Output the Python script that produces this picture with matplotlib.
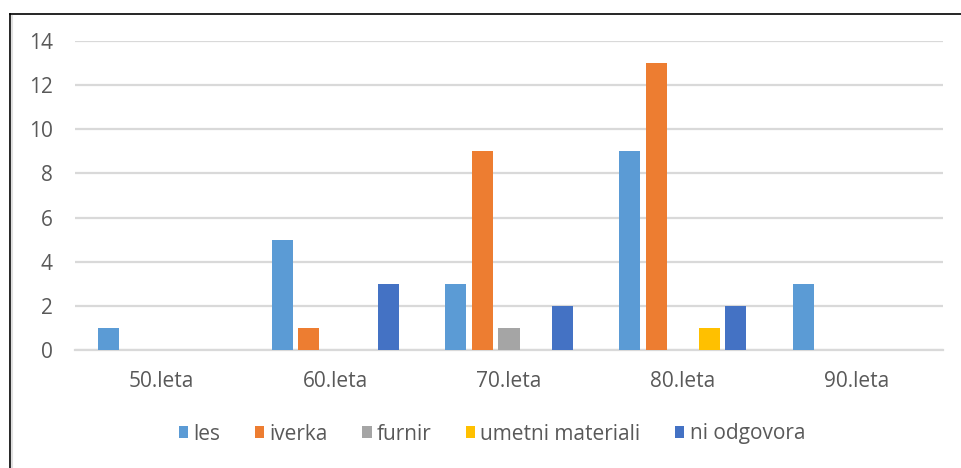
import numpy as np
import matplotlib
matplotlib.use("Agg")
import matplotlib.pyplot as plt
from matplotlib.lines import Line2D

plt.rcParams['font.family'] = ['Open Sans', 'DejaVu Sans']

categories = ["50.leta", "60.leta", "70.leta", "80.leta", "90.leta"]
series = ["les", "iverka", "furnir", "umetni materiali", "ni odgovora"]
les = [1, 5, 3, 9, 3]
iverka = [0, 1, 9, 13, 0]
furnir = [0, 0, 1, 0, 0]
umetni = [0, 0, 0, 1, 0]
ni_odgovora = [0, 3, 2, 2, 0]
values = [les, iverka, furnir, umetni, ni_odgovora]
colors = ["#5B9BD5", "#ED7D31", "#A5A5A5", "#FFC000", "#4472C4"]

fig = plt.figure(figsize=(9.61, 4.68), dpi=100)
ax = fig.add_axes([75/961, 1-350/468, (943-75)/961, (350-41)/468])

x = np.arange(len(categories))
pitch = 0.153
width = 0.121
for i, (name, vals, c) in enumerate(zip(series, values, colors)):
    ax.bar(x + (i-2)*pitch, vals, width, color=c, label=name, zorder=3)

ax.set_xlim(-0.5, 4.5)
ax.set_ylim(0, 14)
ax.set_yticks(range(0, 15, 2))
ax.set_xticks(x)
ax.set_xticklabels(categories)
ax.grid(axis='y', color='#D9D9D9', lw=1.6, zorder=0)
for s in ['top', 'right', 'left']:
    ax.spines[s].set_visible(False)
ax.spines['bottom'].set_color('#D9D9D9')
ax.spines['bottom'].set_linewidth(1.6)
ax.tick_params(axis='both', length=0, labelsize=15, labelcolor='#595959')
ax.tick_params(axis='y', pad=16)
ax.tick_params(axis='x', pad=15)

leg = fig.legend(loc='center', bbox_to_anchor=(492/961, 1-434/468), ncol=5,
                 frameon=False, fontsize=15, handlelength=0.45, handleheight=0.45,
                 handletextpad=0.25, columnspacing=1.65)
for t in leg.get_texts():
    t.set_color('#595959')

# outer frame
fig.add_artist(Line2D([9.5/961, 1], [1-14/468, 1-14/468], color='black', lw=1.2,
                      transform=fig.transFigure))
fig.add_artist(Line2D([9.5/961, 9.5/961], [0, 1-14/468], color='black', lw=1.2,
                      transform=fig.transFigure))
fig.add_artist(Line2D([12/961, 12/961], [0, 1-16/468], color='#E0E0E0', lw=1.5,
                      transform=fig.transFigure))

fig.savefig("out.png", dpi=100)
